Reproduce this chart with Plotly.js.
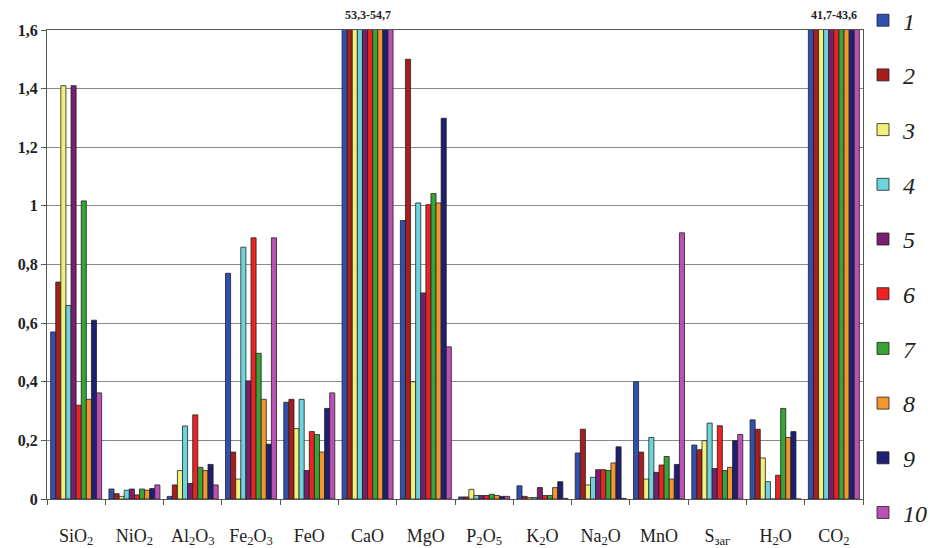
<!DOCTYPE html>
<html>
<head>
<meta charset="utf-8">
<script src="https://cdn.plot.ly/plotly-3.0.1.min.js"></script>
<style>html,body{margin:0;padding:0;background:#fff;}#chart{width:930px;height:548px;}</style>
</head>
<body>
<div id="chart"></div>
<script>
// Categories (oxides)
const categories = ['SiO<sub>2</sub>', 'NiO<sub>2</sub>', 'Al<sub>2</sub>O<sub>3</sub>', 'Fe<sub>2</sub>O<sub>3</sub>', 'FeO', 'CaO', 'MgO',
  'P<sub>2</sub>O<sub>5</sub>', 'K<sub>2</sub>O', 'Na<sub>2</sub>O', 'MnO', 'S<sub>заг</sub>', 'H<sub>2</sub>O', 'CO<sub>2</sub>'];

// Series values (samples 1..10), order as categories
const s1  = [0.57, 0.034, 0.009, 0.77, 0.33, 53.3, 0.95, 0.007, 0.045, 0.157, 0.40, 0.184, 0.27, 41.7];
const s2  = [0.74, 0.018, 0.048, 0.16, 0.34, 54.0, 1.50, 0.007, 0.009, 0.238, 0.16, 0.168, 0.238, 42.5];
const s3  = [1.41, 0.009, 0.097, 0.068, 0.24, 53.8, 0.40, 0.033, 0.005, 0.048, 0.068, 0.199, 0.14, 43.0];
const s4  = [0.66, 0.030, 0.249, 0.859, 0.34, 54.7, 1.01, 0.012, 0.005, 0.074, 0.21, 0.259, 0.059, 43.6];
const s5  = [1.41, 0.034, 0.053, 0.403, 0.097, 53.9, 0.703, 0.012, 0.039, 0.10, 0.091, 0.104, 0, 42.2];
const s6  = [0.32, 0.014, 0.287, 0.891, 0.23, 54.2, 1.004, 0.012, 0.012, 0.10, 0.116, 0.25, 0.081, 42.8];
const s7  = [1.017, 0.034, 0.108, 0.497, 0.22, 53.6, 1.042, 0.016, 0.012, 0.097, 0.145, 0.097, 0.309, 42.0];
const s8  = [0.34, 0.030, 0.097, 0.34, 0.16, 54.4, 1.01, 0.012, 0.039, 0.123, 0.068, 0.108, 0.21, 43.2];
const s9  = [0.61, 0.036, 0.118, 0.187, 0.309, 54.0, 1.299, 0.009, 0.059, 0.178, 0.118, 0.199, 0.23, 42.6];
const s10 = [0.362, 0.048, 0.048, 0.891, 0.362, 53.5, 0.519, 0.009, 0.002, 0.002, 0.908, 0.22, 0, 41.9];

const seriesNames = ['1', '2', '3', '4', '5', '6', '7', '8', '9', '10'];
const seriesValues = [s1, s2, s3, s4, s5, s6, s7, s8, s9, s10];
const seriesColors = ['#3050B0', '#A81E1E', '#F0F07A', '#6CD4DC', '#7A1F70', '#EE2222', '#36A536', '#F59530', '#1E1E72', '#BB50B5'];

const traces = seriesValues.map((vals, i) => ({
  type: 'bar',
  x: categories,
  y: vals,
  name: '<i>' + seriesNames[i] + '</i>',
  legendgroup: 'g' + i,
  marker: { color: seriesColors[i], line: { color: '#222222', width: 0.8 } },
  cliponaxis: true
}));

function fmt(v) { return v.toFixed(1).replace('.', ','); }
function rangeLabel(idx) {
  const col = seriesValues.map(s => s[idx]);
  return fmt(Math.min(...col)) + '-' + fmt(Math.max(...col));
}
const iCaO = categories.indexOf('CaO');
const iCO2 = categories.indexOf('CO<sub>2</sub>');

const layout = {
  width: 930, height: 548,
  margin: { l: 47, r: 67, t: 30, b: 49, autoexpand: false },
  paper_bgcolor: '#ffffff', plot_bgcolor: '#ffffff',
  separators: ', ',
  barmode: 'group',
  bargap: 0.125, bargroupgap: 0,
  showlegend: true,
  legend: {
    x: 1.0, xanchor: 'left', y: 1.068, yanchor: 'top',
    font: { family: 'Liberation Serif, serif', size: 24, color: '#222' },
    tracegroupgap: 20.5, itemwidth: 30, bgcolor: 'rgba(0,0,0,0)', maxheight: 548
  },
  xaxis: {
    type: 'category', tickson: 'boundaries', ticks: 'outside', ticklen: 5, tickcolor: '#555',
    showline: true, linecolor: '#555', linewidth: 1, mirror: true,
    showgrid: false, ticklabelstandoff: 20, automargin: false,
    tickfont: { family: 'Liberation Serif, serif', size: 18, color: '#222' }
  },
  yaxis: {
    range: [0, 1.6], dtick: 0.2, tick0: 0, ticks: 'outside', ticklen: 5, tickcolor: '#555',
    showline: true, linecolor: '#555', linewidth: 1, mirror: true, automargin: false,
    showgrid: true, gridcolor: '#8a8a8a', gridwidth: 1, zeroline: false,
    tickfont: { family: 'Liberation Serif, serif', size: 16, color: '#222', weight: 'bold' }
  },
  annotations: [
    { x: categories[iCaO], y: 1, xref: 'x', yref: 'paper', yanchor: 'bottom', yshift: 6, showarrow: false,
      text: '<b>' + rangeLabel(iCaO) + '</b>', font: { family: 'Liberation Serif, serif', size: 12, color: '#222' } },
    { x: categories[iCO2], y: 1, xref: 'x', yref: 'paper', yanchor: 'bottom', yshift: 6, showarrow: false,
      text: '<b>' + rangeLabel(iCO2) + '</b>', font: { family: 'Liberation Serif, serif', size: 12, color: '#222' } }
  ]
};

Plotly.newPlot('chart', traces, layout, { displayModeBar: false, staticPlot: true });
</script>
</body>
</html>
